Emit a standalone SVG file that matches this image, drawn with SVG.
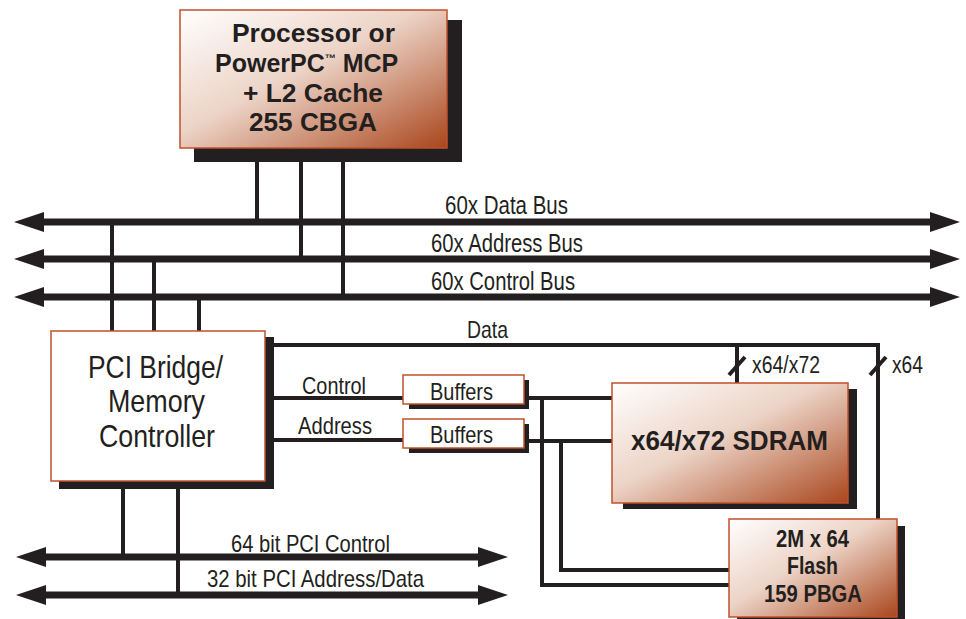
<svg xmlns="http://www.w3.org/2000/svg" width="966" height="619" viewBox="0 0 966 619">
<defs>
<linearGradient id="cu" x1="0" y1="0" x2="1" y2="1">
<stop offset="0" stop-color="#ffffff"/>
<stop offset="0.45" stop-color="#ecd3c6"/>
<stop offset="1" stop-color="#a9461c"/>
</linearGradient>
<marker id="ah" viewBox="0 0 30 20" refX="2" refY="10" markerUnits="userSpaceOnUse" markerWidth="30" markerHeight="20" orient="auto-start-reverse">
<path d="M0,0 L30,10 L0,20 Z" fill="#231f20"/>
</marker>
</defs>
<style>
.sh{fill:#231f20}
.bx{stroke:#c0502a;stroke-width:1.5}
.cu{fill:url(#cu)}
.wh{fill:#ffffff}
.ln{fill:none;stroke:#231f20;stroke-width:4}
.bus{fill:none;stroke:#231f20;stroke-width:7}
.t{font-family:"Liberation Sans",Arial,sans-serif;fill:#231f20}
.b{font-weight:bold}
</style>
<rect width="966" height="619" fill="#ffffff"/>
<g id="connectors">
<line class="ln" x1="257" y1="160" x2="257" y2="222"/>
<line class="ln" x1="301" y1="160" x2="301" y2="259"/>
<line class="ln" x1="343" y1="160" x2="343" y2="297"/>
<line class="ln" x1="112" y1="222" x2="112" y2="332"/>
<line class="ln" x1="154" y1="259" x2="154" y2="332"/>
<line class="ln" x1="199" y1="297" x2="199" y2="332"/>
<line class="bus" x1="42" y1="222" x2="932" y2="222" marker-start="url(#ah)" marker-end="url(#ah)"/>
<line class="bus" x1="42" y1="259" x2="932" y2="259" marker-start="url(#ah)" marker-end="url(#ah)"/>
<line class="bus" x1="42" y1="297" x2="932" y2="297" marker-start="url(#ah)" marker-end="url(#ah)"/>
<polyline class="ln" points="272,345 878,345 878,520"/>
<line class="ln" x1="737" y1="345" x2="737" y2="384"/>
<line x1="729" y1="375" x2="745" y2="357" stroke="#231f20" stroke-width="4"/>
<line x1="870" y1="375" x2="886" y2="357" stroke="#231f20" stroke-width="4"/>
<line class="ln" x1="272" y1="398" x2="404" y2="398"/>
<line class="ln" x1="272" y1="440" x2="404" y2="440"/>
<line class="ln" x1="527" y1="398" x2="613" y2="398"/>
<line class="ln" x1="527" y1="441" x2="613" y2="441"/>
<polyline class="ln" points="542,398 542,585 730,585"/>
<polyline class="ln" points="561,441 561,570 730,570"/>
<line class="ln" x1="123" y1="487" x2="123" y2="557"/>
<line class="ln" x1="178" y1="487" x2="178" y2="595"/>
<line class="bus" x1="44" y1="557" x2="480" y2="557" marker-start="url(#ah)" marker-end="url(#ah)"/>
<line class="bus" x1="44" y1="595" x2="480" y2="595" marker-start="url(#ah)" marker-end="url(#ah)"/>
</g>
<g id="bus-labels">
<text class="t" x="445" y="214" font-size="25" textLength="123" lengthAdjust="spacingAndGlyphs">60x Data Bus</text>
<text class="t" x="431" y="252" font-size="25" textLength="152" lengthAdjust="spacingAndGlyphs">60x Address Bus</text>
<text class="t" x="431" y="290" font-size="25" textLength="144" lengthAdjust="spacingAndGlyphs">60x Control Bus</text>
<text class="t" x="467" y="338" font-size="24" textLength="41" lengthAdjust="spacingAndGlyphs">Data</text>
<text class="t" x="302" y="394" font-size="24" textLength="64" lengthAdjust="spacingAndGlyphs">Control</text>
<text class="t" x="298" y="434" font-size="24" textLength="74" lengthAdjust="spacingAndGlyphs">Address</text>
<text class="t" x="752" y="373" font-size="23" textLength="68" lengthAdjust="spacingAndGlyphs">x64/x72</text>
<text class="t" x="892" y="373" font-size="23" textLength="31" lengthAdjust="spacingAndGlyphs">x64</text>
<text class="t" x="231" y="552" font-size="24" textLength="159" lengthAdjust="spacingAndGlyphs">64 bit PCI Control</text>
<text class="t" x="207" y="587" font-size="24" textLength="217" lengthAdjust="spacingAndGlyphs">32 bit PCI Address/Data</text>
</g>
<g id="processor">
<rect class="sh" x="194" y="20" width="268" height="142"/>
<rect class="bx cu" x="180" y="10" width="267" height="138"/>
<text class="t b" x="232" y="42" font-size="25" textLength="163" lengthAdjust="spacingAndGlyphs">Processor or</text>
<text class="t b" x="215" y="72" font-size="25">PowerPC<tspan font-size="11" dy="-10">™</tspan><tspan dy="10"> MCP</tspan></text>
<text class="t b" x="243" y="102" font-size="25" textLength="140" lengthAdjust="spacingAndGlyphs">+ L2 Cache</text>
<text class="t b" x="249" y="131" font-size="25" textLength="128" lengthAdjust="spacingAndGlyphs">255 CBGA</text>
</g>
<g id="pci-bridge">
<rect class="sh" x="59" y="337" width="215" height="152"/>
<rect class="bx wh" x="51" y="331" width="214" height="150"/>
<text class="t" x="88" y="378" font-size="32" textLength="135" lengthAdjust="spacingAndGlyphs">PCI Bridge/</text>
<text class="t" x="108" y="412" font-size="32" textLength="97" lengthAdjust="spacingAndGlyphs">Memory</text>
<text class="t" x="99" y="447" font-size="32" textLength="116" lengthAdjust="spacingAndGlyphs">Controller</text>
</g>
<g id="buffers-control">
<rect class="sh" x="409" y="380" width="120" height="29"/>
<rect class="bx wh" x="403" y="375" width="121" height="29"/>
<text class="t" x="430" y="400" font-size="24" textLength="63" lengthAdjust="spacingAndGlyphs">Buffers</text>
</g>
<g id="buffers-address">
<rect class="sh" x="409" y="424" width="120" height="29"/>
<rect class="bx wh" x="403" y="419" width="121" height="29"/>
<text class="t" x="430" y="443" font-size="24" textLength="63" lengthAdjust="spacingAndGlyphs">Buffers</text>
</g>
<g id="sdram">
<rect class="sh" x="623" y="389" width="234" height="120"/>
<rect class="bx cu" x="612" y="383" width="236" height="120"/>
<text class="t b" x="631" y="450" font-size="28" textLength="197" lengthAdjust="spacingAndGlyphs">x64/x72 SDRAM</text>
</g>
<g id="flash">
<rect class="sh" x="737" y="526" width="168" height="100"/>
<rect class="bx cu" x="729" y="519" width="168" height="98"/>
<text class="t b" x="776" y="547" font-size="24" textLength="73" lengthAdjust="spacingAndGlyphs">2M x 64</text>
<text class="t b" x="787" y="574" font-size="24" textLength="51" lengthAdjust="spacingAndGlyphs">Flash</text>
<text class="t b" x="764" y="602" font-size="24" textLength="98" lengthAdjust="spacingAndGlyphs">159 PBGA</text>
</g>
</svg>
